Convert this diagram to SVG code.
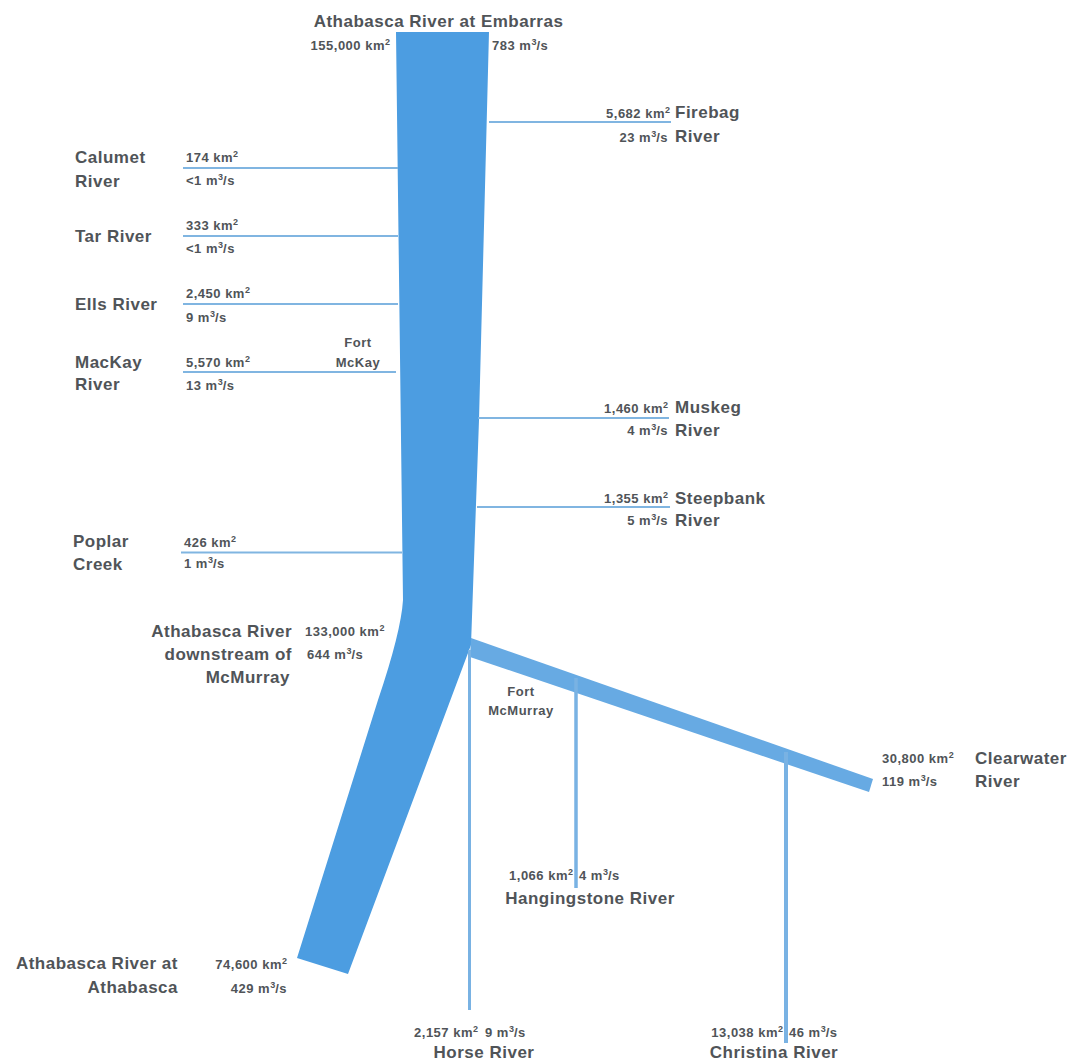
<svg xmlns="http://www.w3.org/2000/svg" width="1069" height="1061" viewBox="0 0 1069 1061">
  <style>
    text { font-family: "Liberation Sans", Arial, sans-serif; font-weight: bold; fill: #505458; }
    .big { font-size: 17px; letter-spacing: 0.5px; }
    .sm { font-size: 13px; letter-spacing: 0.5px; }
    .sup { font-size: 9px; letter-spacing: 0; }
    .end { text-anchor: end; }
    .mid { text-anchor: middle; }
    .trib { stroke: #80b5e1; stroke-width: 2.2; fill: none; }
    .stem { stroke: #79b2e3; fill: none; }
  </style>

  <rect width="1069" height="1061" fill="#ffffff"/>

  <!-- main stem of the Athabasca and the Clearwater branch -->
  <g id="main-channel">
    <path d="M396,32 L489,32 L479,420 L474,560 L471,645 L348,974 L297,958 L378,700 Q401,632 403,600 Z" fill="#4c9de1"/>
    <path d="M471,638 L873,779 L869,792 L470,657 Z" fill="#67aae3"/>
  </g>

  <!-- tributary channels -->
  <g id="connectors">
    <line class="trib" x1="489" y1="122" x2="671" y2="122" stroke-width="3"/>
    <line class="trib" x1="183" y1="168" x2="398" y2="168"/>
    <line class="trib" x1="183" y1="236" x2="398" y2="236"/>
    <line class="trib" x1="183" y1="304" x2="398" y2="304"/>
    <line class="trib" x1="183" y1="372" x2="396" y2="372"/>
    <line class="trib" x1="478" y1="418" x2="669" y2="418"/>
    <line class="trib" x1="477" y1="507" x2="670" y2="507"/>
    <line class="trib" x1="181" y1="552.5" x2="402" y2="552.5"/>
    <line class="stem" x1="469.5" y1="650" x2="469.5" y2="1010" stroke-width="3"/>
    <line class="stem" x1="576" y1="678" x2="576" y2="888" stroke-width="3.5"/>
    <line class="stem" x1="786" y1="752" x2="786" y2="1043" stroke-width="4"/>
  </g>

  <g id="embarras">
    <text class="big mid" x="438.5" y="27">Athabasca River at Embarras</text>
    <text class="sm end" x="390" y="50">155,000 km<tspan class="sup" dy="-5">2</tspan></text>
    <text class="sm" x="492" y="50">783 m<tspan class="sup" dy="-5">3</tspan><tspan dy="5">/s</tspan></text>
  </g>

  <g id="firebag">
    <text class="sm end" x="670" y="118">5,682 km<tspan class="sup" dy="-5">2</tspan></text>
    <text class="sm end" x="668" y="142">23 m<tspan class="sup" dy="-5">3</tspan><tspan dy="5">/s</tspan></text>
    <text class="big" x="675" y="118">Firebag</text>
    <text class="big" x="675" y="142">River</text>
  </g>

  <g id="calumet">
    <text class="big" x="75" y="163">Calumet</text>
    <text class="big" x="75" y="187">River</text>
    <text class="sm" x="186" y="162">174 km<tspan class="sup" dy="-5">2</tspan></text>
    <text class="sm" x="186" y="185">&lt;1 m<tspan class="sup" dy="-5">3</tspan><tspan dy="5">/s</tspan></text>
  </g>

  <g id="tar">
    <text class="big" x="75" y="242">Tar River</text>
    <text class="sm" x="186" y="230">333 km<tspan class="sup" dy="-5">2</tspan></text>
    <text class="sm" x="186" y="253">&lt;1 m<tspan class="sup" dy="-5">3</tspan><tspan dy="5">/s</tspan></text>
  </g>

  <g id="ells">
    <text class="big" x="75" y="310">Ells River</text>
    <text class="sm" x="186" y="298">2,450 km<tspan class="sup" dy="-5">2</tspan></text>
    <text class="sm" x="186" y="322">9 m<tspan class="sup" dy="-5">3</tspan><tspan dy="5">/s</tspan></text>
  </g>

  <g id="mackay">
    <text class="big" x="75" y="368">MacKay</text>
    <text class="big" x="75" y="390">River</text>
    <text class="sm" x="186" y="367">5,570 km<tspan class="sup" dy="-5">2</tspan></text>
    <text class="sm" x="186" y="390">13 m<tspan class="sup" dy="-5">3</tspan><tspan dy="5">/s</tspan></text>
  </g>

  <g id="fort-mckay">
    <text class="sm mid" x="358" y="347">Fort</text>
    <text class="sm mid" x="358" y="367">McKay</text>
  </g>

  <g id="muskeg">
    <text class="sm end" x="668" y="413">1,460 km<tspan class="sup" dy="-5">2</tspan></text>
    <text class="sm end" x="668" y="435">4 m<tspan class="sup" dy="-5">3</tspan><tspan dy="5">/s</tspan></text>
    <text class="big" x="675" y="413">Muskeg</text>
    <text class="big" x="675" y="436">River</text>
  </g>

  <g id="steepbank">
    <text class="sm end" x="668" y="503">1,355 km<tspan class="sup" dy="-5">2</tspan></text>
    <text class="sm end" x="668" y="525">5 m<tspan class="sup" dy="-5">3</tspan><tspan dy="5">/s</tspan></text>
    <text class="big" x="675" y="504">Steepbank</text>
    <text class="big" x="675" y="526">River</text>
  </g>

  <g id="poplar">
    <text class="big" x="73" y="547">Poplar</text>
    <text class="big" x="73" y="570">Creek</text>
    <text class="sm" x="184" y="547">426 km<tspan class="sup" dy="-5">2</tspan></text>
    <text class="sm" x="184" y="568">1 m<tspan class="sup" dy="-5">3</tspan><tspan dy="5">/s</tspan></text>
  </g>

  <g id="downstream-mcmurray">
    <text class="big end" x="292" y="637">Athabasca River</text>
    <text class="big end" x="292" y="660">downstream of</text>
    <text class="big end" x="290" y="683">McMurray</text>
    <text class="sm" x="305" y="636">133,000 km<tspan class="sup" dy="-5">2</tspan></text>
    <text class="sm" x="307" y="659">644 m<tspan class="sup" dy="-5">3</tspan><tspan dy="5">/s</tspan></text>
  </g>

  <g id="fort-mcmurray">
    <text class="sm mid" x="521" y="696">Fort</text>
    <text class="sm mid" x="521" y="715">McMurray</text>
  </g>

  <g id="clearwater">
    <text class="sm" x="882" y="763">30,800 km<tspan class="sup" dy="-5">2</tspan></text>
    <text class="sm" x="882" y="786">119 m<tspan class="sup" dy="-5">3</tspan><tspan dy="5">/s</tspan></text>
    <text class="big" x="975" y="764">Clearwater</text>
    <text class="big" x="975" y="787">River</text>
  </g>

  <g id="hangingstone">
    <text class="sm end" x="573" y="880">1,066 km<tspan class="sup" dy="-5">2</tspan></text>
    <text class="sm" x="579" y="880">4 m<tspan class="sup" dy="-5">3</tspan><tspan dy="5">/s</tspan></text>
    <text class="big mid" x="590" y="904">Hangingstone River</text>
  </g>

  <g id="athabasca-town">
    <text class="big end" x="178" y="969">Athabasca River at</text>
    <text class="big end" x="178" y="993">Athabasca</text>
    <text class="sm end" x="287" y="969">74,600 km<tspan class="sup" dy="-5">2</tspan></text>
    <text class="sm end" x="287" y="993">429 m<tspan class="sup" dy="-5">3</tspan><tspan dy="5">/s</tspan></text>
  </g>

  <g id="horse">
    <text class="sm end" x="478" y="1037">2,157 km<tspan class="sup" dy="-5">2</tspan></text>
    <text class="sm" x="485" y="1037">9 m<tspan class="sup" dy="-5">3</tspan><tspan dy="5">/s</tspan></text>
    <text class="big mid" x="484" y="1058">Horse River</text>
  </g>

  <g id="christina">
    <text class="sm end" x="783" y="1037">13,038 km<tspan class="sup" dy="-5">2</tspan></text>
    <text class="sm" x="789" y="1037">46 m<tspan class="sup" dy="-5">3</tspan><tspan dy="5">/s</tspan></text>
    <text class="big mid" x="774" y="1058">Christina River</text>
  </g>
</svg>
